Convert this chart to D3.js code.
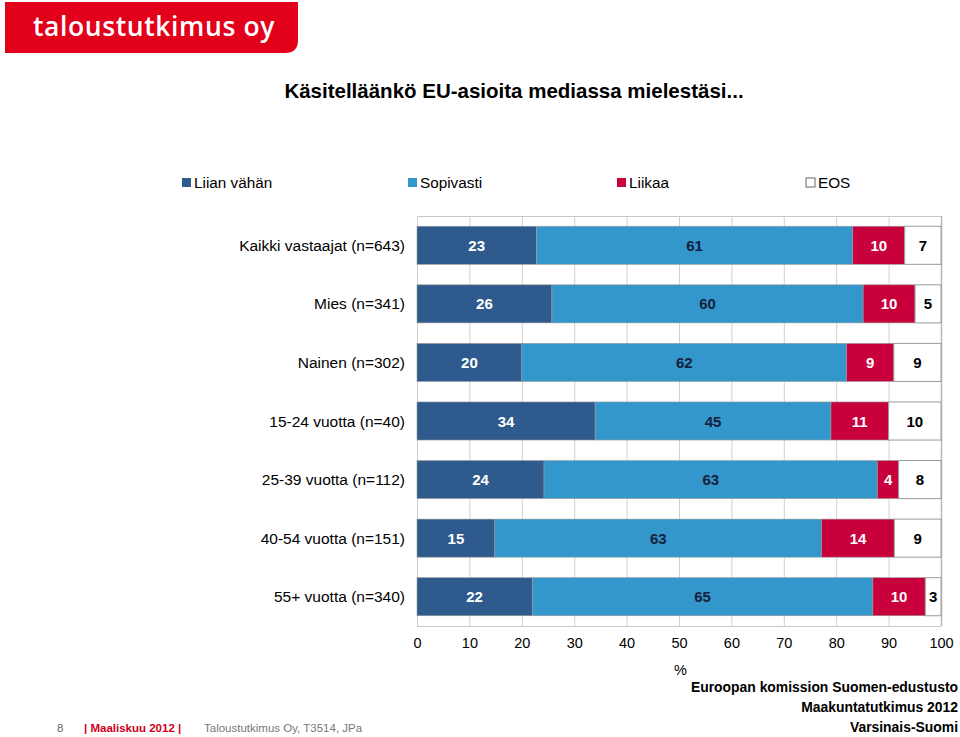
<!DOCTYPE html>
<html><head><meta charset="utf-8">
<script src="https://cdn.jsdelivr.net/npm/d3@7"></script>
<style>body{margin:0;background:#fff;}svg{display:block;font-family:"Liberation Sans",Arial,sans-serif;}</style>
</head><body><svg id="c" width="960" height="737"></svg>
<script>
const categories = ["Kaikki vastaajat (n=643)","Mies (n=341)","Nainen (n=302)","15-24 vuotta (n=40)","25-39 vuotta (n=112)","40-54 vuotta (n=151)","55+ vuotta (n=340)"];
const seriesNames = ["Liian vähän","Sopivasti","Liikaa","EOS"];
const liianVahan = [23,26,20,34,24,15,22];
const sopivasti = [61,60,62,45,63,63,65];
const liikaa = [10,10,9,11,4,14,10];
const eos = [7,5,9,10,8,9,3];
const xTicks = [0,10,20,30,40,50,60,70,80,90,100];
const colors = ["#2F5A8D","#3497CB","#C8003C","#FFFFFF"];
const labelColors = ["#FFFFFF","#14213D","#FFFFFF","#000000"];

const svg = d3.select("#c");
// logo
svg.append("path").attr("d","M5,2 H298 V40 Q298,53 285,53 H5 Z").attr("fill","#E2001A");
svg.append("text").attr("x",33).attr("y",36).attr("fill","#fff").attr("font-size",26.5).attr("font-family","'Open Sans',sans-serif").attr("font-weight",600).attr("letter-spacing",0.6).text("taloustutkimus oy");

// title
svg.append("text").attr("x",514).attr("y",98).attr("text-anchor","middle").attr("font-size",20.5).attr("font-weight","bold").text("Käsitelläänkö EU-asioita  mediassa mielestäsi...");

// legend
const legendX = [182,408,617,806];
seriesNames.forEach((n,i)=>{
  svg.append("rect").attr("x",legendX[i]).attr("y",178).attr("width",9).attr("height",9).attr("fill",colors[i]).attr("stroke",i===3?"#666":"none").attr("stroke-width",1);
  svg.append("text").attr("x",legendX[i]+12).attr("y",188).attr("font-size",15.3).attr("fill","#000").text(n);
});

const data = categories.map((c,i)=>({cat:c, "Liian vähän":liianVahan[i], "Sopivasti":sopivasti[i], "Liikaa":liikaa[i], "EOS":eos[i]}));
const stack = d3.stack().keys(seriesNames).offset(d3.stackOffsetExpand);
const layers = stack(data);

const x = d3.scaleLinear().domain([0,1]).range([417,941]);
const xAxisScale = d3.scaleLinear().domain([0,100]).range([417,941]);
const y = d3.scaleBand().domain(categories).range([216,626]).paddingInner(0.35).paddingOuter(0.175);

// gridlines
const g = svg.append("g");
g.selectAll("line.grid").data(xTicks).join("line").attr("x1",d=>xAxisScale(d)+0.5).attr("x2",d=>xAxisScale(d)+0.5).attr("y1",216).attr("y2",626).attr("stroke","#d0d0d0").attr("stroke-width",1);
g.append("line").attr("x1",417).attr("x2",941).attr("y1",216.5).attr("y2",216.5).attr("stroke","#c8c8c8");
g.append("line").attr("x1",417).attr("x2",941).attr("y1",626.5).attr("y2",626.5).attr("stroke","#c8c8c8");
g.append("line").attr("x1",941.5).attr("x2",941.5).attr("y1",216).attr("y2",626).attr("stroke","#b8b8b8").attr("stroke-width",1.5);

// bars
layers.forEach((layer,li)=>{
  const lg = svg.append("g");
  lg.selectAll("rect").data(layer).join("rect")
    .attr("x",d=>x(d[0])).attr("width",d=>x(d[1])-x(d[0]))
    .attr("y",d=>y(d.data.cat)).attr("height",y.bandwidth())
    .attr("fill",colors[li]).attr("stroke","#9a9a9a").attr("stroke-width",li===3?1:0.6);
  lg.selectAll("text").data(layer).join("text")
    .attr("x",d=>(x(d[0])+x(d[1]))/2).attr("y",d=>y(d.data.cat)+y.bandwidth()/2+5.5)
    .attr("text-anchor","middle").attr("font-size",15).attr("font-weight","bold").attr("fill",labelColors[li])
    .text(d=>d.data[seriesNames[li]]);
});

// category labels
svg.append("g").selectAll("text").data(categories).join("text")
  .attr("x",405).attr("y",d=>y(d)+y.bandwidth()/2+5.5).attr("text-anchor","end").attr("font-size",15.5).attr("fill","#000").text(d=>d);

// x axis
const ax = svg.append("g").attr("transform","translate(0,626)").call(d3.axisBottom(xAxisScale).tickValues(xTicks).tickSize(0).tickPadding(12));
ax.select(".domain").remove();
ax.selectAll("text").attr("font-size",14.5).attr("fill","#000").attr("font-family","'Liberation Sans',Arial,sans-serif");

svg.append("text").attr("x",674).attr("y",675).attr("font-size",14.5).text("%");

// footer right
const fr = ["Euroopan komission Suomen-edustusto","Maakuntatutkimus 2012","Varsinais-Suomi"];
fr.forEach((t,i)=>svg.append("text").attr("x",958).attr("y",692+i*20).attr("text-anchor","end").attr("font-size",13.9).attr("font-weight","bold").text(t));

// footer left
svg.append("text").attr("x",57).attr("y",732).attr("font-size",11.5).attr("fill","#666").text("8");
svg.append("text").attr("x",84).attr("y",732).attr("font-size",11.5).attr("fill","#D0001A").attr("font-weight","bold").text("| Maaliskuu 2012 |");
svg.append("text").attr("x",204).attr("y",732).attr("font-size",11.5).attr("fill","#777").text("Taloustutkimus Oy, T3514, JPa");
</script></body></html>
